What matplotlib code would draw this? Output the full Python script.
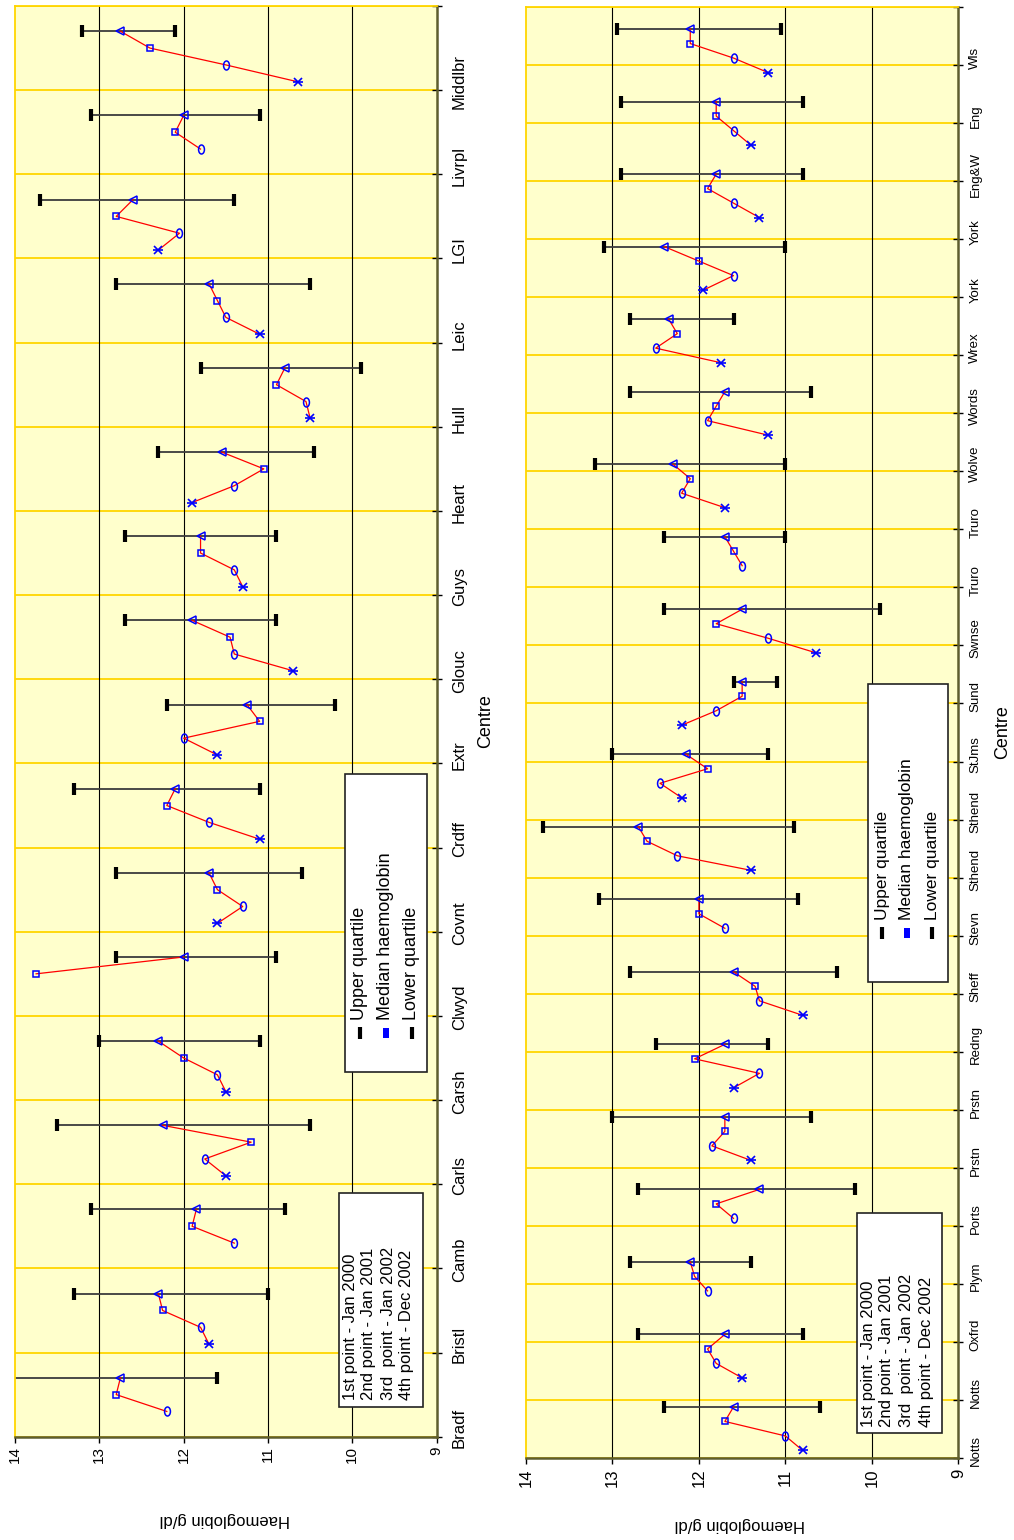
import numpy as np
import matplotlib
matplotlib.use("Agg")
from matplotlib import pyplot as plt
from matplotlib.path import Path
from matplotlib.transforms import Affine2D
from matplotlib.patches import Rectangle
from matplotlib.lines import Line2D

plt.rcParams['font.family'] = ['Liberation Sans', 'DejaVu Sans']

nan = np.nan

# first chart: centres Bradf .. Middlbr
centres1 = ["Bradf", "Bristl", "Camb", "Carls", "Carsh", "Clwyd", "Covnt", "Crdff", "Extr",
            "Glouc", "Guys", "Heart", "Hull", "Leic", "LGI", "Livrpl", "Middlbr"]
jan2000_1 = [nan, 11.70, nan, 11.50, 11.50, nan, 11.60, 11.10, 11.60,
             10.70, 11.30, 11.90, 10.50, 11.10, 12.30, nan, 10.65]
jan2001_1 = [12.20, 11.80, 11.40, 11.75, 11.60, nan, 11.30, 11.70, 12.00,
             11.40, 11.40, 11.40, 10.55, 11.50, 12.05, 11.80, 11.50]
jan2002_1 = [12.80, 12.25, 11.90, 11.20, 12.00, 13.75, 11.60, 12.20, 11.10,
             11.45, 11.80, 11.05, 10.90, 11.60, 12.80, 12.10, 12.40]
dec2002_1 = [12.75, 12.30, 11.85, 12.25, 12.30, 12.00, 11.70, 12.10, 11.25,
             11.90, 11.80, 11.55, 10.80, 11.70, 12.60, 12.00, 12.75]
upper_1 = [14.20, 13.30, 13.10, 13.50, 13.00, 12.80, 12.80, 13.30, 12.20,
           12.70, 12.70, 12.30, 11.80, 12.80, 13.70, 13.10, 13.20]
lower_1 = [11.60, 11.00, 10.80, 10.50, 11.10, 10.90, 10.60, 11.10, 10.20,
           10.90, 10.90, 10.45, 9.90, 10.50, 11.40, 11.10, 12.10]

# second chart: centres Notts .. Wls
centres2 = ["Notts", "Oxfrd", "Plym", "Ports", "Prstn", "Redng", "Sheff", "Stevn", "Sthend",
            "StJms", "Sund", "Swnse", "Truro", "Wolve", "Words", "Wrex", "York", "Eng&W",
            "Eng", "Wls"]
jan2000_2 = [10.80, 11.50, nan, nan, 11.40, 11.60, 10.80, nan, 11.40,
             12.20, 12.20, 10.65, nan, 11.70, 11.20, 11.75, 11.95, 11.30, 11.40, 11.20]
jan2001_2 = [11.00, 11.80, 11.90, 11.60, 11.85, 11.30, 11.30, 11.70, 12.25,
             12.45, 11.80, 11.20, 11.50, 12.20, 11.90, 12.50, 11.60, 11.60, 11.60, 11.60]
jan2002_2 = [11.70, 11.90, 12.05, 11.80, 11.70, 12.05, 11.35, 12.00, 12.60,
             11.90, 11.50, 11.80, 11.60, 12.10, 11.80, 12.25, 12.00, 11.90, 11.80, 12.10]
dec2002_2 = [11.60, 11.70, 12.10, 11.30, 11.70, 11.70, 11.60, 12.00, 12.70,
             12.15, 11.50, 11.50, 11.70, 12.30, 11.70, 12.35, 12.40, 11.80, 11.80, 12.10]
upper_2 = [12.40, 12.70, 12.80, 12.70, 13.00, 12.50, 12.80, 13.15, 13.80,
           13.00, 11.60, 12.40, 12.40, 13.20, 12.80, 12.80, 13.10, 12.90, 12.90, 12.95]
lower_2 = [10.60, 10.80, 11.40, 10.20, 10.70, 11.20, 10.40, 10.85, 10.90,
           11.20, 11.10, 9.90, 11.00, 11.00, 10.70, 11.60, 11.00, 10.80, 10.80, 11.05]

point_labels = ["1st point - Jan 2000", "2nd point - Jan 2001",
                "3rd  point - Jan 2002", "4th point - Dec 2002"]
quartile_labels = ["Upper quartile", "Median haemoglobin", "Lower quartile"]

W, H = 1014, 1540
fig = plt.figure(figsize=(W / 100, H / 100), dpi=100)


def fx(x):
    return x / W


def fy(y):
    return 1 - y / H


ellipse = Path.unit_circle().transformed(Affine2D().scale(0.65, 1.0))
tall_box = [(-0.3, -0.5), (0.3, -0.5), (0.3, 0.5), (-0.3, 0.5), (-0.3, -0.5)]
yellow = '#FFFFCC'
gold = '#FFD500'
olive = '#5E5E2E'


def draw_panel(ax, centres, s1, s2, s3, s4, upper, lower, label_step,
               cat_size, val_size, cat_pad, val_pad, centre_xy, haem_xy):
    n = len(centres)
    slots = 5 * n
    ax.set_facecolor(yellow)
    ax.set_xlim(14, 9)
    ax.set_ylim(0, slots)

    # four readings per centre, one slot each, fifth slot left empty
    series = [s1, s2, s3, s4]
    for g in range(n):
        ys = [5 * g + 0.5 + k for k in range(4)]
        xs = [series[k][g] for k in range(4)]
        ok = [i for i in range(4) if not np.isnan(xs[i])]
        ax.plot([xs[i] for i in ok], [ys[i] for i in ok], color='red', lw=0.9, zorder=3)

    pos = np.arange(n) * 5
    ax.plot(s1, pos + 0.5, ls='none', marker='x', ms=6, mew=1.2, color='blue', zorder=4)
    ax.plot(s1, pos + 0.5, ls='none', marker='_', ms=7, mew=1.2, color='blue', zorder=4)
    ax.plot(s2, pos + 1.5, ls='none', marker=ellipse, ms=6.5, mew=1.1,
            mfc='none', mec='blue', zorder=4)
    ax.plot(s3, pos + 2.5, ls='none', marker='s', ms=5, mew=1.1,
            mfc='none', mec='blue', zorder=4)
    ax.plot(s4, pos + 3.5, ls='none', marker='<', ms=5.5, mew=1.1,
            mfc='none', mec='blue', zorder=4)

    # quartile range drawn on the last reading
    ax.hlines(pos + 3.5, lower, upper, color='#3c3c3c', lw=1.3, zorder=2)
    ax.plot(upper, pos + 3.5, ls='none', marker='|', ms=8, mew=3, color='black', zorder=2)
    ax.plot(lower, pos + 3.5, ls='none', marker='|', ms=8, mew=3, color='black', zorder=2)

    # value grid
    for v in [10, 11, 12, 13]:
        ax.axvline(v, color='black', lw=0.8, zorder=1)

    # category axis on the right
    ax.yaxis.tick_right()
    ax.set_yticks(np.arange(0, slots + 1, label_step))
    ax.set_yticklabels([])
    ax.yaxis.grid(True, which='major', color=gold, lw=1.3, zorder=1)
    ax.set_axisbelow(True)
    lab_pos = np.arange(0, slots, label_step)
    ax.set_yticks(lab_pos + 0.5, [centres[p // 5] for p in lab_pos], minor=True)
    ax.tick_params(axis='y', which='major', direction='inout', length=7,
                   width=1, color='black')
    ax.tick_params(axis='y', which='minor', length=0, pad=cat_pad, labelsize=cat_size)
    for t in ax.get_yticklabels(minor=True):
        t.set_rotation(90)
        t.set_va('center')

    ax.set_xticks([14, 13, 12, 11, 10, 9])
    ax.set_xticklabels(['14', '13', '12', '11', '10', '9'], rotation=90)
    ax.tick_params(axis='x', direction='out', length=4, width=1, color='black',
                   pad=val_pad, labelsize=val_size)

    ax.spines['left'].set_color(gold)
    ax.spines['top'].set_color(gold)
    ax.spines['left'].set_linewidth(1.3)
    ax.spines['top'].set_linewidth(1.3)
    ax.spines['right'].set_color(olive)
    ax.spines['bottom'].set_color(olive)
    ax.spines['right'].set_linewidth(1.8)
    ax.spines['bottom'].set_linewidth(1.8)

    ax.yaxis.set_label_position('right')
    ax.set_ylabel('Centre', rotation=90, fontsize=13)
    ax.yaxis.set_label_coords(*centre_xy)
    ax.yaxis.label.set(ha='center', va='center', rotation_mode='anchor')
    ax.set_xlabel('Haemoglobin g/dl', rotation=180, fontsize=12)
    ax.xaxis.set_label_coords(*haem_xy)
    ax.xaxis.label.set(ha='center', va='center', rotation_mode='anchor')


def point_legend(x0, x1, y0, y1, line_x, text_y, size):
    fig.add_artist(Rectangle((fx(x0), fy(y1)), fx(x1) - fx(x0), fy(y0) - fy(y1),
                             transform=fig.transFigure, facecolor='white',
                             edgecolor='#222222', lw=1.2, zorder=5))
    for lx, txt in zip(line_x, point_labels):
        fig.text(fx(lx), fy(text_y), txt, rotation=90, ha='center', va='bottom',
                 fontsize=size, zorder=6)


def quartile_legend(x0, x1, y0, y1, line_x, mark_y, text_y, size):
    fig.add_artist(Rectangle((fx(x0), fy(y1)), fx(x1) - fx(x0), fy(y0) - fy(y1),
                             transform=fig.transFigure, facecolor='white',
                             edgecolor='#222222', lw=1.2, zorder=5))
    markers = [dict(marker='|', ms=8, mew=3, color='black'),
               dict(marker=tall_box, ms=7, mew=0, color='blue'),
               dict(marker='|', ms=8, mew=3, color='black')]
    for lx, txt, mk in zip(line_x, quartile_labels, markers):
        fig.add_artist(Line2D([fx(lx)], [fy(mark_y)], ls='none',
                              transform=fig.transFigure, zorder=6, **mk))
        fig.text(fx(lx), fy(text_y), txt, rotation=90, ha='center', va='bottom',
                 fontsize=size, zorder=6)


ax1 = fig.add_axes([fx(15), fy(1436.7), fx(436.7) - fx(15), fy(6) - fy(1436.7)])
draw_panel(ax1, centres1, jan2000_1, jan2001_1, jan2002_1, dec2002_1, upper_1, lower_1,
           5, 12, 11, 11, 3, (1.117, 0.5), (0.498, -0.058))

ax2 = fig.add_axes([fx(526), fy(1457.7), fx(958.3) - fx(526), fy(7.3) - fy(1457.7)])
draw_panel(ax2, centres2, jan2000_2, jan2001_2, jan2002_2, dec2002_2, upper_2, lower_2,
           4, 9.5, 12, 8, 4, (1.103, 0.5), (0.495, -0.046))

point_legend(339, 423, 1193, 1407, [350, 369, 388, 407], 1400, 12)
quartile_legend(345, 427, 774, 1072, [360, 386, 412], 1033, 1020, 13)
point_legend(857, 942, 1213, 1433, [868, 887, 907, 926], 1427, 12)
quartile_legend(868, 948, 684, 982, [882, 907, 932], 933, 920, 12.5)

fig.savefig("out.png", dpi=100, facecolor='white')
